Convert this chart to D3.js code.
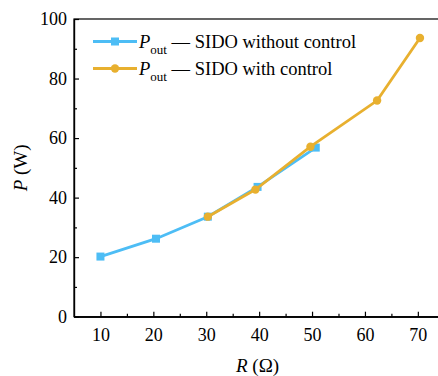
<!DOCTYPE html>
<html>
<head>
<meta charset="utf-8">
<script src="https://cdn.jsdelivr.net/npm/d3@7"></script>
<style>
body { margin: 0; background: #fff; }
text { font-family: "Liberation Serif", "Times New Roman", serif; fill: #000; }
</style>
</head>
<body>
<script>
var width = 438, height = 376;

// R (ohm) and P (W)
var rNoCtrl = [10, 20.5, 30.3, 39.7, 50.7];
var pNoCtrl = [20.2, 26.2, 33.6, 43.6, 56.8];
var rCtrl = [30.3, 39.3, 49.7, 62.3, 70.4];
var pCtrl = [33.6, 42.7, 57.1, 72.6, 93.6];
var xTicks = [10, 20, 30, 40, 50, 60, 70];
var yTicks = [0, 20, 40, 60, 80, 100];

var blue = "#4dbdf5", orange = "#e8b02f";

var plotL = 74, plotR = 439, plotT = 19, plotB = 316.7;

var svg = d3.select("body").append("svg").attr("width", width).attr("height", height);

var x = d3.scaleLinear().domain([5, 74]).range([plotL, plotR]);
var y = d3.scaleLinear().domain([0, 100]).range([plotB, plotT]);

// frame
svg.append("rect").attr("x", plotL).attr("y", plotT)
  .attr("width", plotR - plotL).attr("height", plotB - plotT)
  .attr("fill", "none").attr("stroke", "#000").attr("stroke-width", 1.2);

// axes, ticks pointing inward
svg.append("g").attr("transform", "translate(0," + plotB + ")")
  .call(d3.axisBottom(x).tickValues(xTicks).tickSizeInner(-5).tickSizeOuter(0).tickPadding(12));
svg.append("g").attr("transform", "translate(0," + plotB + ")")
  .call(d3.axisBottom(x).tickValues(d3.range(15, 74, 10)).tickSizeInner(-3).tickSizeOuter(0).tickFormat(""));
svg.append("g").attr("transform", "translate(" + plotL + ",0)")
  .call(d3.axisLeft(y).tickValues(yTicks).tickSizeInner(-5).tickSizeOuter(0).tickPadding(7));
svg.append("g").attr("transform", "translate(" + plotL + ",0)")
  .call(d3.axisLeft(y).tickValues(d3.range(10, 100, 20)).tickSizeInner(-3).tickSizeOuter(0).tickFormat(""));

svg.selectAll(".domain").attr("stroke", "#000").attr("stroke-width", 1.2);
svg.selectAll(".tick line").attr("stroke", "#000").attr("stroke-width", 1.2);
svg.selectAll(".tick text").style("font-family", "'Liberation Serif', serif").style("font-size", "18px").attr("fill", "#000");

// axis titles
var yt = svg.append("text").attr("transform", "translate(27," + (plotT + plotB) / 2 + ") rotate(-90)")
  .attr("text-anchor", "middle").style("font-size", "19px");
yt.append("tspan").style("font-style", "italic").text("P");
yt.append("tspan").text(" (W)");

var xt = svg.append("text").attr("x", x(39.7)).attr("y", 372)
  .attr("text-anchor", "middle").style("font-size", "19px");
xt.append("tspan").style("font-style", "italic").text("R");
xt.append("tspan").text(" (\u03A9)");

// data lines
var noCtrl = rNoCtrl.map(function(d, i) { return [d, pNoCtrl[i]]; });
var ctrl = rCtrl.map(function(d, i) { return [d, pCtrl[i]]; });

var line = d3.line().x(function(d) { return x(d[0]); }).y(function(d) { return y(d[1]); });

svg.append("path").datum(noCtrl).attr("d", line)
  .attr("fill", "none").attr("stroke", blue).attr("stroke-width", 2.8);
svg.selectAll(".sq").data(noCtrl).enter().append("rect")
  .attr("x", function(d) { return x(d[0]) - 4; })
  .attr("y", function(d) { return y(d[1]) - 4; })
  .attr("width", 8).attr("height", 8).attr("fill", blue);

svg.append("path").datum(ctrl).attr("d", line)
  .attr("fill", "none").attr("stroke", orange).attr("stroke-width", 2.8);
svg.selectAll(".ci").data(ctrl).enter().append("circle")
  .attr("cx", function(d) { return x(d[0]); })
  .attr("cy", function(d) { return y(d[1]); })
  .attr("r", 4.2).attr("fill", orange);

// legend
var legend = [
  { label: " \u2014 SIDO without control", color: blue, shape: "square" },
  { label: " \u2014 SIDO with control", color: orange, shape: "circle" }
];
legend.forEach(function(l, i) {
  var ly = 41.5 + i * 27;
  var g = svg.append("g");
  g.append("line").attr("x1", 93).attr("x2", 137).attr("y1", ly).attr("y2", ly)
    .attr("stroke", l.color).attr("stroke-width", 2.8);
  if (l.shape == "square")
    g.append("rect").attr("x", 111).attr("y", ly - 4).attr("width", 8).attr("height", 8).attr("fill", l.color);
  else
    g.append("circle").attr("cx", 115).attr("cy", ly).attr("r", 4.2).attr("fill", l.color);
  var t = g.append("text").attr("x", 139).attr("y", ly + 6).style("font-size", "18.5px");
  t.append("tspan").style("font-style", "italic").text("P");
  t.append("tspan").attr("dy", 6).style("font-size", "13px").text("out");
  t.append("tspan").attr("dy", -6).text(l.label);
});
</script>
</body>
</html>
